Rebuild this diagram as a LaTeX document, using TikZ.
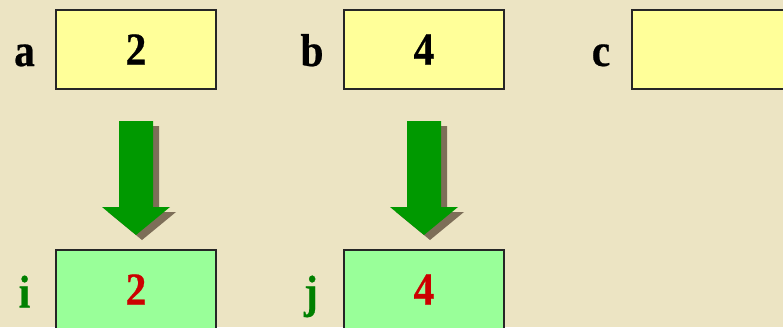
\documentclass[tikz,border=0pt]{standalone}
\usepackage{fontspec}
\setmainfont{Liberation Serif}
\newfontfamily\heavyserif{LiberationSerif-Bold.ttf}[FakeStretch=0.9,FakeBold=0.5]
\usepackage{xcolor}
\definecolor{paper}{HTML}{ECE4C3}
\definecolor{boxyellow}{HTML}{FFFF99}
\definecolor{boxgreen}{HTML}{99FF99}
\definecolor{valred}{HTML}{CC0000}
\definecolor{arrowgreen}{HTML}{009900}
\definecolor{shadowbrown}{HTML}{7D6E58}
\definecolor{labgreen}{HTML}{008000}
\tikzset{
  var/.style={draw=black!85,line width=1.6pt,minimum width=160pt,minimum height=79pt,
    inner sep=0pt,font=\heavyserif\fontsize{46}{46}\selectfont},
  src/.style={var,fill=boxyellow},
  dst/.style={var,fill=boxgreen,text=valred},
  varlabel/.style={anchor=base,font=\heavyserif\fontsize{46}{46}\selectfont}
}
\begin{document}
\begin{tikzpicture}[x=1pt,y=-1pt]
    \fill[paper](0,0) rectangle (783,327);
    \useasboundingbox (0,0) rectangle (783,327);
    \clip (0,0) rectangle (783,327);
    % top row
    \node[src] (a) at (136,49.5) {2};
    \node[src] (b) at (424,49.5) {4};
    \node[src] (c) at (712,49.5) {};
    \node[varlabel] (la) at (24.5,66) {a};
    \node[varlabel] (lb) at (312,66) {b};
    \node[varlabel] (lc) at (601,66) {c};
    % bottom row
    \node[dst] (i) at (136,289.5) {2};
    \node[dst] (j) at (424,289.5) {4};
    \node[varlabel,text=labgreen] (li) at (24.5,307.5) {i};
    \node[varlabel,text=labgreen] (lj) at (311,307.5) {j};
    % block arrows with shadow
    \foreach \x in {136,424}{
        \fill[shadowbrown,shift={(6,5)}](\x-17,121)--(\x+17,121)--(\x+17,207)--(\x+34,207)
            --(\x,235)--(\x-34,207)--(\x-17,207)--cycle;
        \fill[arrowgreen](\x-17,121)--(\x+17,121)--(\x+17,207)--(\x+34,207)
            --(\x,235)--(\x-34,207)--(\x-17,207)--cycle;
    }
\end{tikzpicture}
\end{document}
